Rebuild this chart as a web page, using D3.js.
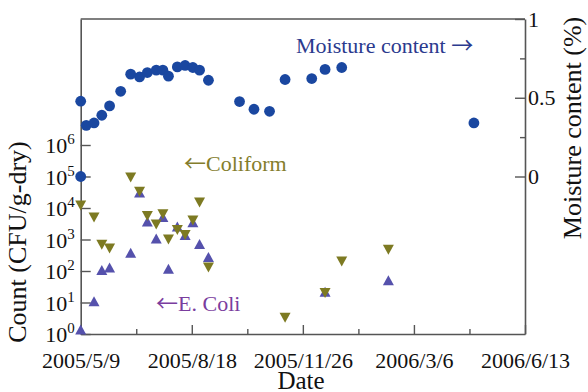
<!DOCTYPE html>
<html>
<head>
<meta charset="utf-8">
<script src="https://cdn.jsdelivr.net/npm/d3@7"></script>
<style>
body { margin: 0; background: #fff; }
svg { display: block; font-family: "Liberation Serif", "Times New Roman", serif; }
</style>
</head>
<body>
<svg id="chart" width="588" height="392"></svg>
<script>
// moisture content (right axis)
const moistureDates = ["2005-05-09", "2005-05-09", "2005-05-14", "2005-05-21", "2005-05-28", "2005-06-04",
	"2005-06-14", "2005-06-23", "2005-07-01", "2005-07-08", "2005-07-16", "2005-07-22", "2005-07-27",
	"2005-08-04", "2005-08-11", "2005-08-18", "2005-08-24", "2005-09-01", "2005-09-29", "2005-10-12",
	"2005-10-26", "2005-11-09", "2005-12-03", "2005-12-15", "2005-12-30", "2006-04-28"];
const moistureValues = [0.478, 0.0, 0.325, 0.34, 0.389, 0.448,
	0.541, 0.65, 0.632, 0.66, 0.675, 0.675, 0.637,
	0.696, 0.705, 0.692, 0.675, 0.611, 0.476, 0.427,
	0.414, 0.616, 0.622, 0.68, 0.692, 0.34];

// coliform counts (CFU/g-dry)
const coliformDates = ["2005-05-09", "2005-05-21", "2005-05-28", "2005-06-04", "2005-06-23", "2005-07-01",
	"2005-07-08", "2005-07-16", "2005-07-22", "2005-07-27", "2005-08-04", "2005-08-11", "2005-08-18",
	"2005-08-24", "2005-09-01", "2005-11-09", "2005-12-15", "2005-12-30", "2006-02-10"];
const coliformCounts = [12000, 5000, 680, 520, 93000, 33000,
	5600, 3000, 6300, 1000, 2000, 1400, 4000,
	15000, 130, 3.3, 20, 200, 470];

// E. coli counts (CFU/g-dry)
const ecoliDates = ["2005-05-09", "2005-05-21", "2005-05-28", "2005-06-04", "2005-06-23", "2005-07-01",
	"2005-07-08", "2005-07-16", "2005-07-22", "2005-07-27", "2005-08-04", "2005-08-11", "2005-08-18",
	"2005-08-24", "2005-09-01", "2005-12-15", "2006-02-10"];
const ecoliCounts = [1.4, 11, 107, 130, 380, 31000,
	3700, 1070, 5200, 117, 2600, 1400, 3500,
	720, 280, 22, 51];

// axis ticks
const xTickLabels = ["2005/5/9", "2005/8/18", "2005/11/26", "2006/3/6", "2006/6/13"];
const countTicks = [1, 10, 100, 1000, 10000, 100000, 1000000];
const moistureTicks = [0, 0.5, 1];
const moistureMinorTicks = [0.25, 0.75];

const parse = d3.timeParse("%Y-%m-%d");
const startDate = parse("2005-05-09");
const endDate = parse("2006-06-13");

const plotLeft = 80.7, plotRight = 525, plotTop = 19, plotBottom = 334;
const axisColour = "#555";
const moistureColour = "#1a47a0";
const coliformColour = "#7d7a22";
const ecoliColour = "#5551ac";
const arrowFont = "'Noto Sans CJK JP', 'DejaVu Sans', sans-serif";

const x = d3.scaleTime().domain([startDate, endDate]).range([plotLeft, plotRight]);
const yCount = d3.scaleLog().domain([1, 1e10]).range([plotBottom, plotTop]);
const yMoist = d3.scaleLinear().domain([-1, 1]).range([plotBottom, plotTop]);

// ticks every 100 days, minor ones halfway
const xMajor = xTickLabels.map((d, i) => d3.timeDay.offset(startDate, 100 * i));
const xMinor = xTickLabels.slice(1).map((d, i) => d3.timeDay.offset(startDate, 100 * i + 50));

const svg = d3.select("#chart");

function styleAxis(g) {
	g.attr("font-family", null).attr("font-size", null);
	g.select(".domain").attr("stroke", axisColour).attr("stroke-width", 1.6);
	g.selectAll(".tick line").attr("stroke", axisColour).attr("stroke-width", 1.4);
	g.selectAll(".tick text").attr("fill", "#111").attr("font-size", "22px");
}

// top border
svg.append("line")
	.attr("x1", plotLeft).attr("x2", plotRight)
	.attr("y1", plotTop).attr("y2", plotTop)
	.attr("stroke", axisColour).attr("stroke-width", 1.6);

// bottom axis
svg.append("g")
	.attr("transform", "translate(0," + plotBottom + ")")
	.call(d3.axisBottom(x).tickValues(xMajor).tickSize(-9).tickSizeOuter(0).tickPadding(18)
		.tickFormat((d, i) => xTickLabels[i]))
	.call(styleAxis);
svg.append("g")
	.attr("transform", "translate(0," + plotBottom + ")")
	.call(d3.axisBottom(x).tickValues(xMinor).tickSize(-5).tickFormat(""))
	.call(styleAxis)
	.call(g => g.select(".domain").remove());

// left axis (log counts)
svg.append("g")
	.attr("transform", "translate(" + plotLeft + ",0)")
	.call(d3.axisLeft(yCount).tickValues(countTicks).tickSize(-10).tickSizeOuter(0).tickPadding(6)
		.tickFormat(() => ""))
	.call(styleAxis)
	.call(g => g.selectAll(".tick text").each(function(d) {
		let t = d3.select(this).attr("dy", "0.36em");
		t.append("tspan").text("10");
		t.append("tspan").attr("dy", "-0.6em").attr("font-size", "15px").text(Math.round(Math.log10(d)));
	}));

// right axis (moisture)
svg.append("g")
	.attr("transform", "translate(" + plotRight + ",0)")
	.call(d3.axisRight(yMoist).tickValues(moistureTicks).tickSize(-10).tickSizeOuter(0).tickPadding(3)
		.tickFormat(d3.format("")))
	.call(styleAxis);
svg.append("g")
	.attr("transform", "translate(" + plotRight + ",0)")
	.call(d3.axisRight(yMoist).tickValues(moistureMinorTicks).tickSize(-5).tickFormat(""))
	.call(styleAxis)
	.call(g => g.select(".domain").remove());

// markers
let triangle = (up) => {
	let w = 11, h = 10, s = up ? 1 : -1;
	return "M0," + (-s * h / 2) + "L" + (w / 2) + "," + (s * h / 2) + "L" + (-w / 2) + "," + (s * h / 2) + "Z";
};

svg.append("g")
	.attr("fill", moistureColour)
	.selectAll("circle")
	.data(moistureDates.map((d, i) => ({ date: parse(d), value: moistureValues[i] })))
	.join("circle")
	.attr("cx", d => x(d.date))
	.attr("cy", d => yMoist(d.value))
	.attr("r", 5.4);

svg.append("g")
	.attr("fill", ecoliColour)
	.selectAll("path")
	.data(ecoliDates.map((d, i) => ({ date: parse(d), value: ecoliCounts[i] })))
	.join("path")
	.attr("d", triangle(true))
	.attr("transform", d => "translate(" + x(d.date) + "," + yCount(d.value) + ")");

svg.append("g")
	.attr("fill", coliformColour)
	.selectAll("path")
	.data(coliformDates.map((d, i) => ({ date: parse(d), value: coliformCounts[i] })))
	.join("path")
	.attr("d", triangle(false))
	.attr("transform", d => "translate(" + x(d.date) + "," + yCount(d.value) + ")");

// annotations (arrow glyph taken from a font that has a wide one)
let moistNote = svg.append("text").attr("x", 296).attr("y", 53)
	.attr("font-size", "22px").attr("fill", "#2b3a8e");
moistNote.append("tspan").text("Moisture content ");
moistNote.append("tspan").attr("font-family", arrowFont).text("\u2192");

let coliNote = svg.append("text").attr("x", 184).attr("y", 171)
	.attr("font-size", "22px").attr("fill", "#847d2c");
coliNote.append("tspan").attr("font-family", arrowFont).text("\u2190");
coliNote.append("tspan").text("Coliform");

let ecoliNote = svg.append("text").attr("x", 156).attr("y", 311)
	.attr("font-size", "22px").attr("fill", "#7a3d9e");
ecoliNote.append("tspan").attr("font-family", arrowFont).text("\u2190");
ecoliNote.append("tspan").text("E. Coli");

// axis titles
svg.append("text")
	.attr("transform", "translate(26,242) rotate(-90)")
	.attr("text-anchor", "middle").attr("font-size", "26px").attr("fill", "#111")
	.text("Count (CFU/g-dry)");
svg.append("text")
	.attr("transform", "translate(581,128) rotate(-90)")
	.attr("text-anchor", "middle").attr("font-size", "26px").attr("fill", "#111")
	.text("Moisture content (%)");
svg.append("text")
	.attr("x", 301).attr("y", 389)
	.attr("text-anchor", "middle").attr("font-size", "25px").attr("fill", "#111")
	.text("Date");
</script>
</body>
</html>
